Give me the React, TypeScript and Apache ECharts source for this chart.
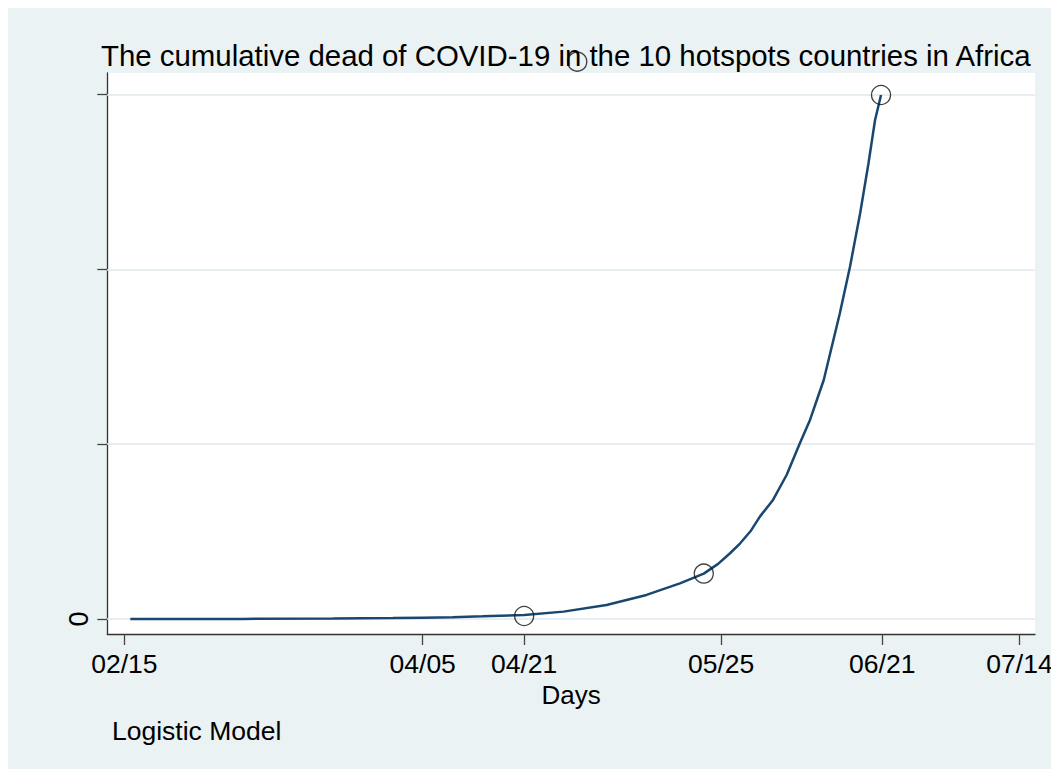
import React, { useEffect, useRef } from 'react';
import * as echarts from 'echarts';

// Days since 02/15 and cumulative deaths (fitted curve)
const curveDays = [1, 20, 35, 45, 50, 55, 60, 67, 73.6, 80.8, 87.5, 93.1, 97.1, 99.5, 101.5, 103.2, 105, 106.5, 108.7, 111, 113.2, 114.9, 117.2, 119.9, 121.6, 123.3, 124.7, 125.8, 126.8];
const curveDeaths = [0, 1, 4, 10, 15, 20, 30, 46, 84, 160, 275, 408, 519, 630, 752, 866, 1010, 1171, 1362, 1650, 2010, 2277, 2734, 3498, 4031, 4642, 5214, 5709, 5995];

// Observed points (hollow circles)
const markerDays = [67, 97.1, 126.8, 75.9];
const markerDeaths = [34, 519, 5995, 6377];

// Axis ticks
const xTickDays = [0, 50, 67, 100, 127, 150];
const xTickLabels = ['02/15', '04/05', '04/21', '05/25', '06/21', '07/14'];
const yTickValues = [0, 2000, 4000, 6000];
const yTickLabels = ['0', '', '', ''];

const FONT = 'Liberation Sans, Arial, sans-serif';

export default function App() {
  const ref = useRef<HTMLDivElement>(null);
  useEffect(() => {
    const chart = echarts.init(ref.current!, null, { renderer: 'svg' });
    const labelMap: Record<string, string> = {};
    xTickDays.forEach((d, i) => (labelMap[String(d)] = xTickLabels[i]));
    const yLabelMap: Record<string, string> = {};
    yTickValues.forEach((v, i) => (yLabelMap[String(v)] = yTickLabels[i]));

    chart.setOption({
      animation: false,
      backgroundColor: '#EAF2F3',
      title: [
        {
          text: 'The cumulative dead of COVID-19 in the 10 hotspots countries in Africa',
          left: 93,
          top: 33,
          padding: 0,
          textStyle: { fontFamily: FONT, fontSize: 29.4, fontWeight: 'normal', color: '#000' },
        },
        {
          text: 'Logistic Model',
          left: 104,
          top: 709,
          padding: 0,
          textStyle: { fontFamily: FONT, fontSize: 26.5, fontWeight: 'normal', color: '#000' },
        },
      ],
      grid: {
        left: 99.3,
        top: 65,
        width: 927.7,
        height: 561,
        show: true,
        backgroundColor: '#ffffff',
        borderWidth: 0,
        containLabel: false,
        outerBoundsMode: 'none',
      },
      xAxis: {
        type: 'value',
        min: -2.85,
        max: 152.6,
        name: 'Days',
        nameLocation: 'middle',
        nameGap: 40,
        nameTextStyle: { fontFamily: FONT, fontSize: 26, color: '#000' },
        axisLine: { show: true, onZero: false, lineStyle: { color: '#333', width: 1.3 } },
        axisTick: { show: true, customValues: xTickDays, length: 11, lineStyle: { color: '#444', width: 1.3 } },
        axisLabel: {
          customValues: xTickDays,
          formatter: (v: number) => labelMap[String(v)] ?? '',
          fontFamily: FONT,
          fontSize: 26.5,
          color: '#000',
          margin: 16,
          hideOverlap: false,
        },
        splitLine: { show: false },
      },
      yAxis: {
        type: 'value',
        min: -172,
        max: 6247,
        axisLine: { show: true, onZero: false, lineStyle: { color: '#333', width: 1.3 } },
        axisTick: { show: true, customValues: yTickValues, length: 10, lineStyle: { color: '#444', width: 1.3 } },
        axisLabel: {
          customValues: yTickValues,
          formatter: (v: number) => yLabelMap[String(v)] ?? '',
          rotate: 90,
          fontFamily: FONT,
          fontSize: 27,
          color: '#000',
          margin: 15,
        },
        splitLine: { show: false },
      },
      series: [
        {
          type: 'line',
          data: [],
          z: 1,
          silent: true,
          markLine: {
            z: 1,
            silent: true,
            symbol: 'none',
            label: { show: false },
            lineStyle: { color: '#E6EEF1', width: 2, type: 'solid' },
            data: yTickValues.map((v) => ({ yAxis: v })),
          },
        },
        {
          type: 'line',
          z: 3,
          data: curveDays.map((d, i) => [d, curveDeaths[i]]),
          showSymbol: false,
          smooth: false,
          lineStyle: { color: '#1A476F', width: 2.5 },
        },
        {
          type: 'scatter',
          z: 5,
          clip: false,
          data: markerDays.map((d, i) => [d, markerDeaths[i]]),
          symbol: 'circle',
          symbolSize: 19,
          itemStyle: { color: 'rgba(0,0,0,0)', borderColor: '#111', borderWidth: 1.3 },
        },
      ],
    });
    return () => chart.dispose();
  }, []);
  return <div ref={ref} style={{ position: 'absolute', left: 8, top: 8, width: 1043, height: 761 }} />;
}
